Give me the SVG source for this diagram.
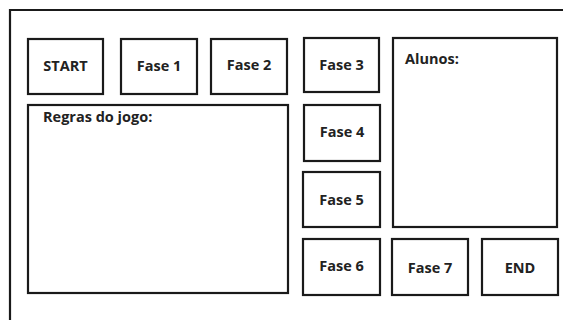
<svg xmlns="http://www.w3.org/2000/svg" width="563" height="320" viewBox="0 0 563 320">
<style>
rect{fill:#fff;stroke:#1a1a1a;stroke-width:2.2}
.frame{fill:none;stroke:#1a1a1a;stroke-width:2.2}
text{font-family:"Open Sans","Liberation Sans",sans-serif;font-weight:700;font-size:14.5px;fill:#222}
.c{text-anchor:middle}
</style>
<rect width="563" height="320" style="fill:#fff;stroke:none"/>
<path class="frame" d="M10,320 V10 H563"/>
<g id="start"><rect x="28" y="39" width="75" height="55"/><text class="c" x="65.5" y="71">START</text></g>
<g id="fase1"><rect x="121" y="39" width="76" height="55"/><text class="c" x="159" y="71">Fase 1</text></g>
<g id="fase2"><rect x="211" y="39" width="76" height="55"/><text class="c" x="249" y="70">Fase 2</text></g>
<g id="fase3"><rect x="304" y="38" width="75" height="54"/><text class="c" x="341.5" y="70">Fase 3</text></g>
<g id="alunos"><rect x="393" y="38" width="164" height="189"/><text x="405" y="64">Alunos:</text></g>
<g id="regras"><rect x="28" y="105" width="260" height="188"/><text x="43" y="122">Regras do jogo:</text></g>
<g id="fase4"><rect x="304" y="105" width="76" height="56"/><text class="c" x="342" y="137">Fase 4</text></g>
<g id="fase5"><rect x="303" y="172" width="77" height="55"/><text class="c" x="341.5" y="205">Fase 5</text></g>
<g id="fase6"><rect x="303" y="239" width="77" height="56"/><text class="c" x="341.5" y="271">Fase 6</text></g>
<g id="fase7"><rect x="392" y="239" width="76" height="56"/><text class="c" x="430" y="273">Fase 7</text></g>
<g id="end"><rect x="482" y="239" width="76" height="56"/><text class="c" x="520" y="273">END</text></g>
<g id="connectors"/>
</svg>
